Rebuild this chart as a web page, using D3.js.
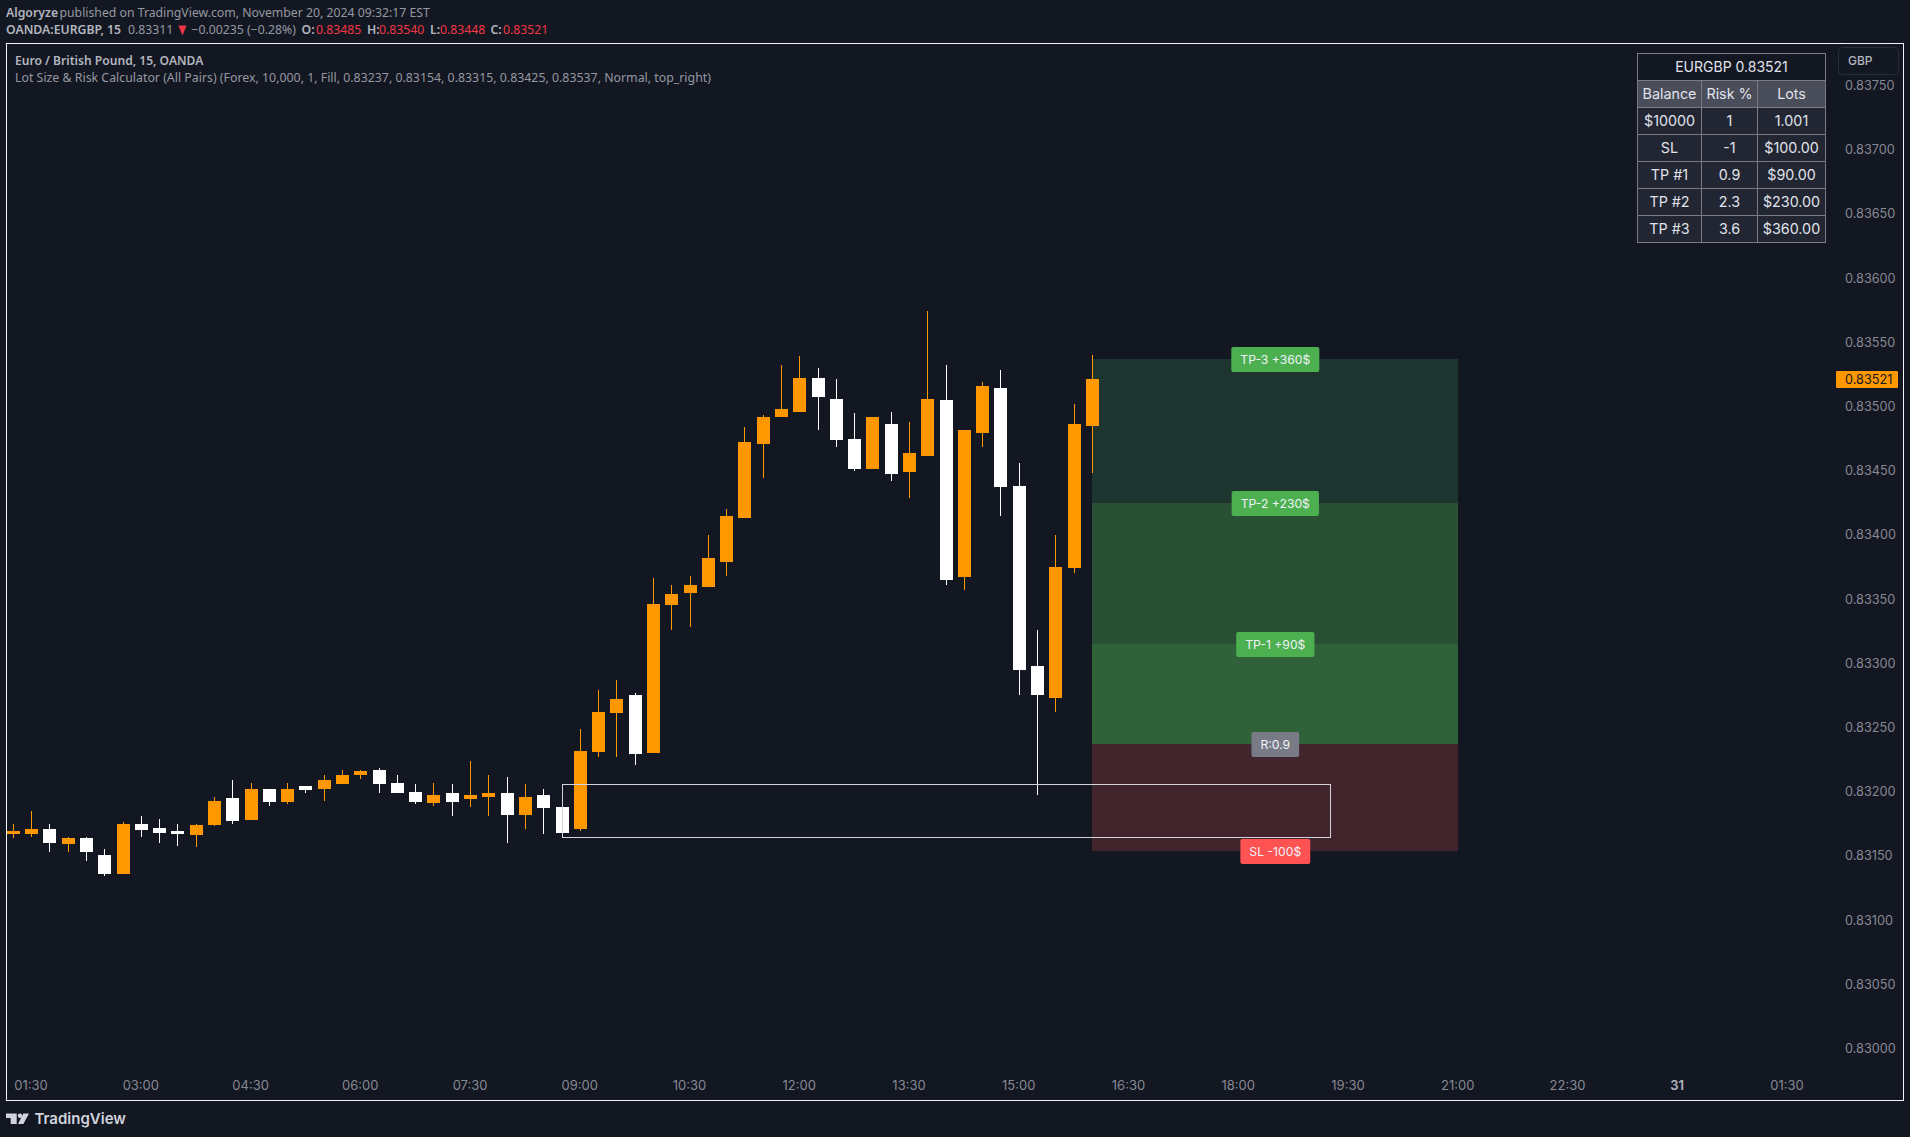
<!DOCTYPE html>
<html>
<head>
<meta charset="utf-8">
<title>EURGBP</title>
<script src="https://cdn.jsdelivr.net/npm/d3@7"></script>
<style>
  html, body { margin: 0; padding: 0; background: #131722; overflow: hidden; }
  svg { display: block; }
  text { font-family: Inter, sans-serif; }
  .head text { font-family: "Noto Sans", sans-serif; font-size: 12.25px; }
  .legend text { font-family: "Noto Sans", sans-serif; font-size: 12.35px; }
  .scale text { font-size: 12.7px; fill: #868993; }
  .time text { font-size: 13px; }
</style>
</head>
<body>
<svg id="chart" width="1910" height="1137"></svg>
<script>
const opens = [
  0.83167, 0.83167, 0.83171, 0.83159, 0.83164, 0.83151, 0.83136, 0.83175, 0.83172, 0.83169,
  0.83166, 0.83174, 0.83195, 0.83178, 0.83202, 0.83192, 0.83204, 0.83202, 0.83206, 0.83213,
  0.83217, 0.83207, 0.83200, 0.83191, 0.83199, 0.83194, 0.83196, 0.83199, 0.83182, 0.83197,
  0.83188, 0.83171, 0.83231, 0.83261, 0.83275, 0.83230, 0.83345, 0.83355, 0.83359, 0.83379,
  0.83413, 0.83471, 0.83492, 0.83496, 0.83522, 0.83506, 0.83475, 0.83451, 0.83486, 0.83449,
  0.83461, 0.83505, 0.83367, 0.83479, 0.83514, 0.83438, 0.83298, 0.83273, 0.83374, 0.83485
];
const highs = [
  0.83175, 0.83185, 0.83175, 0.83165, 0.83165, 0.83155, 0.83176, 0.83181, 0.83179, 0.83175,
  0.83175, 0.83196, 0.83209, 0.83207, 0.83202, 0.83207, 0.83204, 0.83213, 0.83217, 0.83217,
  0.83218, 0.83213, 0.83206, 0.83207, 0.83206, 0.83224, 0.83213, 0.83211, 0.83206, 0.83202,
  0.83190, 0.83249, 0.83279, 0.83287, 0.83277, 0.83366, 0.83361, 0.83368, 0.83400, 0.83420,
  0.83484, 0.83493, 0.83532, 0.83539, 0.83530, 0.83521, 0.83495, 0.83492, 0.83496, 0.83488,
  0.83574, 0.83532, 0.83482, 0.83519, 0.83528, 0.83456, 0.83326, 0.83400, 0.83502, 0.83540
];
const lows = [
  0.83164, 0.83165, 0.83153, 0.83153, 0.83146, 0.83134, 0.83136, 0.83165, 0.83160, 0.83158,
  0.83157, 0.83173, 0.83175, 0.83178, 0.83189, 0.83190, 0.83199, 0.83193, 0.83206, 0.83210,
  0.83199, 0.83199, 0.83190, 0.83189, 0.83181, 0.83188, 0.83181, 0.83160, 0.83171, 0.83167,
  0.83166, 0.83169, 0.83227, 0.83227, 0.83221, 0.83230, 0.83326, 0.83328, 0.83359, 0.83368,
  0.83413, 0.83444, 0.83492, 0.83496, 0.83482, 0.83468, 0.83450, 0.83451, 0.83442, 0.83429,
  0.83461, 0.83361, 0.83357, 0.83468, 0.83415, 0.83275, 0.83197, 0.83262, 0.83370, 0.83448
];
const closes = [
  0.83169, 0.83171, 0.83160, 0.83164, 0.83153, 0.83136, 0.83175, 0.83170, 0.83168, 0.83167,
  0.83174, 0.83193, 0.83177, 0.83202, 0.83192, 0.83202, 0.83201, 0.83209, 0.83213, 0.83216,
  0.83206, 0.83199, 0.83192, 0.83197, 0.83192, 0.83197, 0.83199, 0.83182, 0.83196, 0.83187,
  0.83168, 0.83232, 0.83262, 0.83272, 0.83229, 0.83346, 0.83354, 0.83361, 0.83382, 0.83415,
  0.83472, 0.83492, 0.83498, 0.83522, 0.83507, 0.83474, 0.83451, 0.83492, 0.83447, 0.83464,
  0.83506, 0.83365, 0.83482, 0.83516, 0.83437, 0.83295, 0.83275, 0.83375, 0.83486, 0.83521
];

const priceTicks = [0.83000, 0.83050, 0.83100, 0.83150, 0.83200, 0.83250, 0.83300, 0.83350,
  0.83400, 0.83450, 0.83500, 0.83550, 0.83600, 0.83650, 0.83700, 0.83750];
const timeLabels = ['01:30', '03:00', '04:30', '06:00', '07:30', '09:00', '10:30', '12:00', '13:30',
  '15:00', '16:30', '18:00', '19:30', '21:00', '22:30', '31', '01:30'];

// calculator levels from the indicator title
const entry = 0.83237, stop = 0.83154, tp1 = 0.83315, tp2 = 0.83425, tp3 = 0.83537;
const zoneStart = 59, zoneEnd = 79, labelBar = 69;
const boxLeft = 30, boxRight = 72, boxTop = 0.83206, boxBottom = 0.83165;

const tableTitle = 'EURGBP 0.83521';
const tableHeader = ['Balance', 'Risk %', 'Lots'];
const tableRows = [
  ['$10000', '1', '1.001'],
  ['SL', '-1', '$100.00'],
  ['TP #1', '0.9', '$90.00'],
  ['TP #2', '2.3', '$230.00'],
  ['TP #3', '3.6', '$360.00']
];

const svg = d3.select('#chart');
const bg = '#131722', orange = '#ff9800', white = '#ffffff';

const x = d3.scaleLinear().domain([0, 1]).range([13.3, 31.59]);
const y = d3.scaleLinear().domain([0.83, 0.8375]).range([1048.4, 85.4]);

const bars = opens.map((o, i) => ({ i, o, h: highs[i], l: lows[i], c: closes[i] }));

// zones
const zones = [
  { from: tp2, to: tp3, fill: '#1e342e' },
  { from: tp1, to: tp2, fill: '#294f35' },
  { from: entry, to: tp1, fill: '#2f6239' },
  { from: stop, to: entry, fill: '#42242d' }
];
svg.append('g').selectAll('rect').data(zones).join('rect')
  .attr('x', Math.floor(x(zoneStart)))
  .attr('width', Math.floor(x(zoneEnd)) - Math.floor(x(zoneStart)))
  .attr('y', d => Math.round(y(d.to)))
  .attr('height', d => Math.round(y(d.from)) - Math.round(y(d.to)))
  .attr('fill', d => d.fill);

// candles
const candle = svg.append('g').attr('shape-rendering', 'crispEdges')
  .selectAll('g').data(bars).join('g')
  .attr('fill', d => d.c >= d.o ? orange : white);
candle.append('rect')
  .attr('x', d => Math.floor(x(d.i)))
  .attr('width', 1)
  .attr('y', d => Math.round(y(d.h)))
  .attr('height', d => Math.round(y(d.l)) - Math.round(y(d.h)));
candle.append('rect')
  .attr('x', d => Math.floor(x(d.i)) - 6)
  .attr('width', 13)
  .attr('y', d => Math.round(y(Math.max(d.o, d.c))))
  .attr('height', d => Math.max(1, Math.round(y(Math.min(d.o, d.c))) - Math.round(y(Math.max(d.o, d.c)))));

// box
svg.append('rect')
  .attr('x', Math.floor(x(boxLeft)) + 0.5)
  .attr('y', Math.round(y(boxTop)) + 0.5)
  .attr('width', Math.floor(x(boxRight)) - Math.floor(x(boxLeft)))
  .attr('height', Math.round(y(boxBottom)) - Math.round(y(boxTop)))
  .attr('fill', 'none')
  .attr('stroke', '#d1d4dc')
  .attr('stroke-width', 1)
  .attr('shape-rendering', 'crispEdges');

// labels on the zones
const labels = [
  { price: tp3, text: 'TP-3 +360$', fill: '#4caf50' },
  { price: tp2, text: 'TP-2 +230$', fill: '#4caf50' },
  { price: tp1, text: 'TP-1 +90$', fill: '#4caf50' },
  { price: entry, text: 'R:0.9', fill: '#787b86' },
  { price: stop, text: 'SL -100$', fill: '#ff5252' }
];
const tag = svg.append('g').selectAll('g').data(labels).join('g')
  .attr('transform', d => `translate(${x(labelBar)},${Math.round(y(d.price)) + 0.5})`);
const tagRect = tag.append('rect').attr('rx', 2).attr('fill', d => d.fill);
tag.append('text')
  .attr('text-anchor', 'middle')
  .attr('dy', '0.35em')
  .attr('font-size', 12.2)
  .attr('fill', '#f0f3fa')
  .text(d => d.text)
  .each(function (d) {
    const w = this.getComputedTextLength() + 18;
    d3.select(this.parentNode).select('rect')
      .attr('x', -w / 2).attr('width', w).attr('y', -12.5).attr('height', 25);
  });

// axes
const yAxis = d3.axisRight(y).tickValues(priceTicks).tickSize(0).tickPadding(0).tickFormat(d3.format('.5f'));
const gy = svg.append('g').attr('class', 'scale').attr('transform', 'translate(1845,0)').call(yAxis);
gy.select('.domain').remove();

const xAxis = d3.axisBottom(x)
  .tickValues(timeLabels.map((d, i) => 1 + i * 6))
  .tickSize(0).tickPadding(0)
  .tickFormat((d, i) => timeLabels[i]);
const gx = svg.append('g').attr('class', 'scale time').attr('transform', 'translate(-1,1080.5)').call(xAxis);
gx.select('.domain').remove();
gx.selectAll('text').filter(d => d === 91).style('font-weight', 600).style('fill', '#b2b5be');

// last price tag
const last = closes[closes.length - 1];
svg.append('rect').attr('x', 1836).attr('y', Math.round(y(last)) - 8).attr('width', 62).attr('height', 17)
  .attr('rx', 1).attr('fill', orange);
svg.append('text').attr('x', 1845).attr('y', y(last)).attr('dy', '0.35em')
  .attr('font-size', 12.7).attr('fill', bg).text(d3.format('.5f')(last));

// GBP button
svg.append('rect').attr('x', 1838.5).attr('y', 47.5).attr('width', 60).attr('height', 27).attr('rx', 4)
  .attr('fill', 'none').attr('stroke', '#2a2e39');
svg.append('text').attr('x', 1848).attr('y', 60.7).attr('dy', '0.35em')
  .attr('font-size', 12).attr('font-weight', 500).attr('fill', '#b2b5be').text('GBP');

// table
const colX = [1637.5, 1701.5, 1757.5, 1825.5];
const rowY = d3.range(8).map(i => 53.5 + i * 27);
const table = svg.append('g');
const cell = (c0, c1, r, txt, fill) => {
  table.append('rect').attr('x', colX[c0]).attr('y', rowY[r])
    .attr('width', colX[c1] - colX[c0]).attr('height', 27)
    .attr('fill', fill).attr('stroke', '#787b86').attr('shape-rendering', 'crispEdges');
  table.append('text').attr('x', (colX[c0] + colX[c1]) / 2).attr('y', rowY[r] + 13.6)
    .attr('dy', '0.35em').attr('text-anchor', 'middle').attr('font-size', r === 0 ? 14 : 14.3)
    .attr('fill', '#e0e3eb').text(txt);
};
cell(0, 3, 0, tableTitle, bg);
tableHeader.forEach((t, c) => cell(c, c + 1, 1, t, '#4a4e5a'));
tableRows.forEach((row, r) => row.forEach((t, c) => cell(c, c + 1, r + 2, t, '#222632')));

// frame
svg.append('rect').attr('x', 6.5).attr('y', 43.5).attr('width', 1897).attr('height', 1057)
  .attr('fill', 'none').attr('stroke', '#f0f3fa').attr('shape-rendering', 'crispEdges');

// header text
const head = svg.append('g').attr('class', 'head');
const put = (g, px, py, txt, fill, weight) => g.append('text').attr('x', px).attr('y', py).attr('dy', '0.35em')
  .attr('fill', fill).attr('font-weight', weight || 400).text(txt);
const red = '#f23645', soft = '#b2b5be', mid = '#9598a1';
put(head, 6, 12.7, 'Algoryze', soft, 600);
put(head, 59.5, 12.7, 'published on TradingView.com, November 20, 2024 09:32:17 EST', mid);
put(head, 6, 30, 'OANDA:EURGBP, 15', soft, 600);
put(head, 128, 30, '0.83311', mid);
head.append('path').attr('d', 'M178.5 25.5h8l-4 10z').attr('fill', red);
put(head, 191.5, 30, '−0.00235 (−0.28%)', mid);
[['O:', 301.5, '0.83485', 316], ['H:', 367, '0.83540', 379], ['L:', 430, '0.83448', 440], ['C:', 490.5, '0.83521', 503]]
  .forEach(d => {
    put(head, d[1], 30, d[0], soft, 600);
    put(head, d[3], 30, d[2], red);
  });

const legend = svg.append('g').attr('class', 'legend');
put(legend, 15, 60.7, 'Euro / British Pound, 15, OANDA', soft, 600).style('font-size', '12.1px');
put(legend, 15, 77.7, 'Lot Size & Risk Calculator (All Pairs) (Forex, 10,000, 1, Fill, 0.83237, 0.83154, 0.83315, 0.83425, 0.83537, Normal, top_right)', mid);

// logo
const logo = svg.append('g').attr('fill', '#d1d4dc');
logo.append('path').attr('d', 'M6 1113.5h10.7v10.5h-6v-6h-4.7z');
logo.append('circle').attr('cx', 20).attr('cy', 1115.7).attr('r', 2.2);
logo.append('path').attr('d', 'M23.3 1113.5h5.7l-5.6 10.5h-5.4z');
logo.append('text').attr('x', 34.5).attr('y', 1119).attr('dy', '0.35em').attr('font-size', 15).attr('font-weight', 600).text('TradingView');
</script>
</body>
</html>
